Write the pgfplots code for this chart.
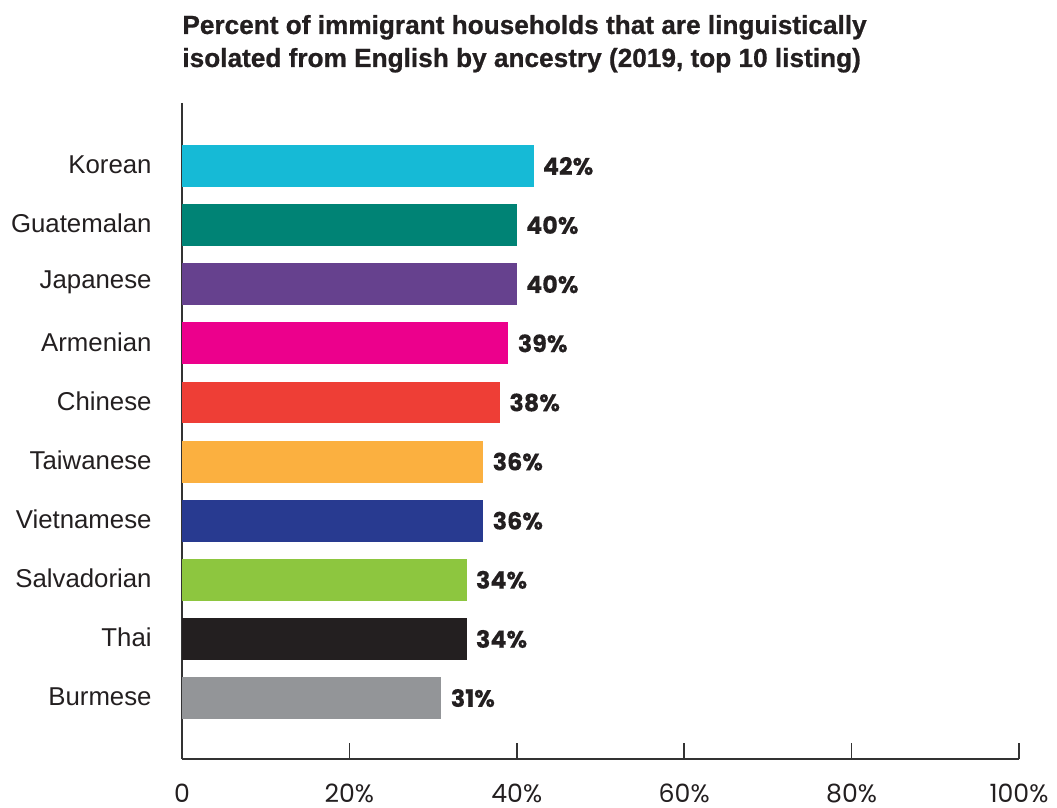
\documentclass[border=0pt]{standalone}
\usepackage{fontspec}
\setmainfont{Liberation Sans}
\newfontfamily\pop{Poppins}
\newfontfamily\popb[BoldFeatures={FakeBold=0.3}]{Poppins}
\newfontfamily\ttl[BoldFeatures={FakeBold=0.8}]{Liberation Sans}
\usepackage{pgfplots}
\pgfplotsset{compat=1.18}
\definecolor{cKor}{HTML}{16BAD6}
\definecolor{cGua}{HTML}{008375}
\definecolor{cJap}{HTML}{66418E}
\definecolor{cArm}{HTML}{EC008C}
\definecolor{cChi}{HTML}{EE3E36}
\definecolor{cTai}{HTML}{FBB040}
\definecolor{cVie}{HTML}{283A90}
\definecolor{cSal}{HTML}{8DC63F}
\definecolor{cTha}{HTML}{231F20}
\definecolor{cBur}{HTML}{939598}
\definecolor{axc}{HTML}{333333}
\definecolor{txt}{HTML}{231F20}
\begin{document}
\begin{tikzpicture}
\path[use as bounding box] (-91pt,-24.5pt) rectangle (437.5pt,379.5pt);
\begin{axis}[
  at={(0,0)}, anchor=south west,
  width=418.5pt, height=328pt, scale only axis,
  xbar, bar width=0.71, bar shift=0pt,
  xmin=0, xmax=100,
  ymin=-1.066, ymax=10.03, y dir=reverse,
  axis x line*=bottom, axis y line*=left,
  axis line style={draw=axc, line width=0.75pt},
  xtick={0,20,40,60,80,100},
  xticklabels={0,20\%,40\%,60\%,80\%,100\%},
  xtick align=inside, major tick length=8pt,
  xtick style={draw=axc, line width=0.75pt},
  xticklabel style={font=\pop\fontsize{12.6}{14}\selectfont, text=txt, anchor=base, yshift=-21.5pt},
  ytick={0,...,9},
  yticklabels={Korean,Guatemalan,Japanese,Armenian,Chinese,Taiwanese,Vietnamese,Salvadorian,Thai,Burmese},
  ytick style={draw=none},
  yticklabel style={font=\fontsize{12.9}{14}\selectfont, text=txt, anchor=east, inner sep=0pt, xshift=-7pt, yshift=0.8pt},
  clip=false,
  point meta=x,
  /pgf/number format/assume math mode=true,
  nodes near coords={\pgfmathprintnumber[fixed,precision=0]{\pgfplotspointmeta}\%},
  nodes near coords style={anchor=west, inner sep=0pt, xshift=4.5pt, font=\popb\bfseries\fontsize{11.9}{14}\selectfont, text=txt},
]
\addplot[fill=cKor, draw=none] coordinates {(42,0)};
\addplot[fill=cGua, draw=none] coordinates {(40,1)};
\addplot[fill=cJap, draw=none] coordinates {(40,2)};
\addplot[fill=cArm, draw=none] coordinates {(39,3)};
\addplot[fill=cChi, draw=none] coordinates {(38,4)};
\addplot[fill=cTai, draw=none] coordinates {(36,5)};
\addplot[fill=cVie, draw=none] coordinates {(36,6)};
\addplot[fill=cSal, draw=none] coordinates {(34,7)};
\addplot[fill=cTha, draw=none] coordinates {(34,8)};
\addplot[fill=cBur, draw=none] coordinates {(31,9)};
\end{axis}
\node[anchor=base west, inner sep=0pt, text=txt, font=\ttl\bfseries\fontsize{13.1}{14}\selectfont] at (0pt,362.5pt) {Percent of immigrant households that are linguistically};
\node[anchor=base west, inner sep=0pt, text=txt, font=\ttl\bfseries\fontsize{13.1}{14}\selectfont] at (0pt,346pt) {isolated from English by ancestry (2019, top 10 listing)};
\end{tikzpicture}
\end{document}
